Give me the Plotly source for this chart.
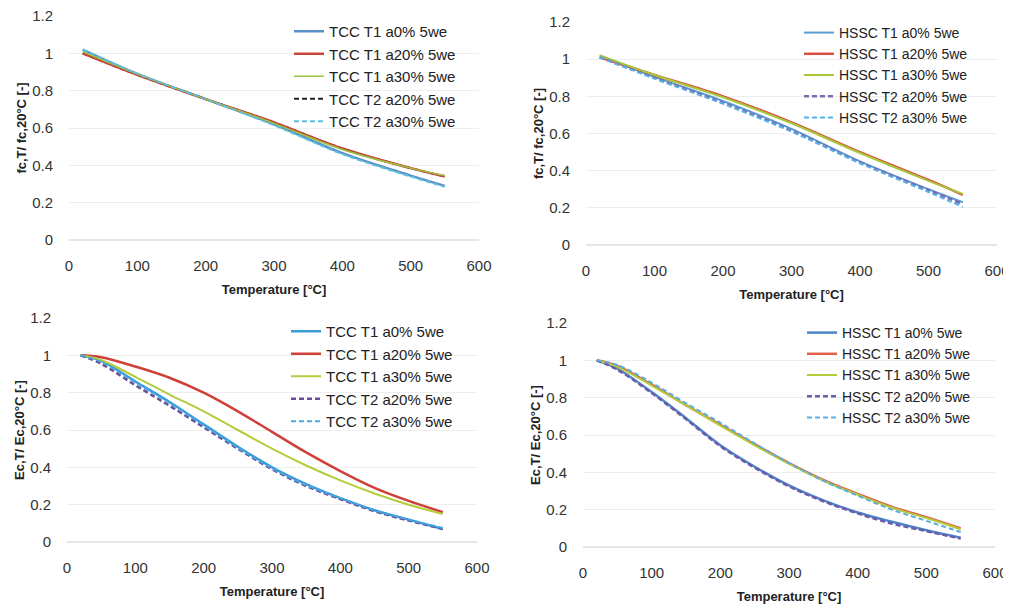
import plotly.graph_objects as go

# ---------------- data ----------------
temp_f = [20, 100, 200, 300, 400, 500, 550]

tcc_names = ["TCC T1 a0% 5we", "TCC T1 a20% 5we", "TCC T1 a30% 5we", "TCC T2 a20% 5we", "TCC T2 a30% 5we"]
tcc_fc_t1_a0 = [1.02, 0.89, 0.755, 0.62, 0.465, 0.345, 0.29]
tcc_fc_t1_a20 = [1.00, 0.885, 0.755, 0.63, 0.49, 0.385, 0.34]
tcc_fc_t1_a30 = [1.01, 0.89, 0.755, 0.625, 0.485, 0.385, 0.345]
tcc_fc_t2_a20 = [1.00, 0.885, 0.755, 0.63, 0.49, 0.385, 0.34]
tcc_fc_t2_a30 = [1.02, 0.89, 0.755, 0.615, 0.46, 0.34, 0.285]

hssc_names = ["HSSC T1 a0% 5we", "HSSC T1 a20% 5we", "HSSC T1 a30% 5we", "HSSC T2 a20% 5we", "HSSC T2 a30% 5we"]
hssc_fc_t1_a0 = [1.02, 0.905, 0.775, 0.625, 0.45, 0.30, 0.23]
hssc_fc_t1_a20 = [1.01, 0.915, 0.80, 0.66, 0.50, 0.35, 0.27]
hssc_fc_t1_a30 = [1.02, 0.915, 0.795, 0.655, 0.495, 0.345, 0.275]
hssc_fc_t2_a20 = [1.01, 0.90, 0.765, 0.615, 0.445, 0.295, 0.22]
hssc_fc_t2_a30 = [1.01, 0.895, 0.76, 0.61, 0.44, 0.285, 0.205]

temp_e = [20, 50, 100, 150, 200, 250, 300, 350, 400, 450, 500, 550]

tcc_ec_t1_a0 = [1.0, 0.97, 0.86, 0.75, 0.63, 0.51, 0.40, 0.31, 0.235, 0.17, 0.12, 0.07]
tcc_ec_t1_a20 = [1.0, 0.99, 0.94, 0.88, 0.80, 0.70, 0.59, 0.48, 0.38, 0.29, 0.22, 0.16]
tcc_ec_t1_a30 = [1.0, 0.975, 0.885, 0.79, 0.70, 0.60, 0.50, 0.41, 0.33, 0.26, 0.20, 0.15]
tcc_ec_t2_a20 = [1.0, 0.955, 0.84, 0.73, 0.615, 0.50, 0.39, 0.30, 0.23, 0.165, 0.115, 0.07]
tcc_ec_t2_a30 = [1.0, 0.965, 0.855, 0.745, 0.625, 0.505, 0.395, 0.305, 0.235, 0.17, 0.12, 0.075]

hssc_ec_t1_a0 = [1.0, 0.955, 0.83, 0.69, 0.545, 0.43, 0.33, 0.25, 0.185, 0.135, 0.09, 0.05]
hssc_ec_t1_a20 = [1.0, 0.97, 0.87, 0.76, 0.655, 0.55, 0.45, 0.36, 0.285, 0.215, 0.16, 0.10]
hssc_ec_t1_a30 = [1.0, 0.965, 0.865, 0.76, 0.65, 0.545, 0.445, 0.355, 0.28, 0.21, 0.155, 0.095]
hssc_ec_t2_a20 = [1.0, 0.95, 0.825, 0.685, 0.54, 0.425, 0.325, 0.245, 0.18, 0.125, 0.085, 0.045]
hssc_ec_t2_a30 = [1.0, 0.975, 0.88, 0.77, 0.665, 0.555, 0.45, 0.355, 0.275, 0.20, 0.14, 0.08]

x_ticks = [0, 100, 200, 300, 400, 500, 600]
y_ticks = [0, 0.2, 0.4, 0.6, 0.8, 1.0, 1.2]
y_tick_text = ["0", "0.2", "0.4", "0.6", "0.8", "1", "1.2"]

# ---------------- figure ----------------
# the page body has an 8px margin on the top/left
OFF = 8
W, H = 1011 - OFF, 607 - OFF
FONT = "Liberation Sans, Arial, sans-serif"
DASH = "5px,3px"

fig = go.Figure()

panels = [
    ("x", "y", "legend", temp_f,
     [tcc_fc_t1_a0, tcc_fc_t1_a20, tcc_fc_t1_a30, tcc_fc_t2_a20, tcc_fc_t2_a30], tcc_names,
     [("#5B8FC8", "solid", 2.5), ("#C8463A", "solid", 2.5), ("#9BC53D", "solid", 1.5),
      ("#222222", DASH, 2), ("#5BC0DE", DASH, 2)],
     [3, 0, 1, 2, 4]),  # drawing order
    ("x2", "y2", "legend2", temp_f,
     [hssc_fc_t1_a0, hssc_fc_t1_a20, hssc_fc_t1_a30, hssc_fc_t2_a20, hssc_fc_t2_a30], hssc_names,
     [("#5B9BD5", "solid", 2), ("#D9503F", "solid", 2.5), ("#A8C83A", "solid", 2),
      ("#7A6AAE", DASH, 2.5), ("#55B0E8", DASH, 2)],
     [0, 1, 2, 3, 4]),
    ("x3", "y3", "legend3", temp_e,
     [tcc_ec_t1_a0, tcc_ec_t1_a20, tcc_ec_t1_a30, tcc_ec_t2_a20, tcc_ec_t2_a30], tcc_names,
     [("#3A9BD8", "solid", 2.5), ("#D0403A", "solid", 2.5), ("#B5CC3A", "solid", 2),
      ("#6A4E9A", DASH, 2.5), ("#45A8E0", DASH, 2)],
     [0, 1, 2, 3, 4]),
    ("x4", "y4", "legend4", temp_e,
     [hssc_ec_t1_a0, hssc_ec_t1_a20, hssc_ec_t1_a30, hssc_ec_t2_a20, hssc_ec_t2_a30], hssc_names,
     [("#4A86C8", "solid", 2.5), ("#E0604A", "solid", 2.5), ("#B5CC3A", "solid", 2),
      ("#6E5AAA", DASH, 2.5), ("#5AAEE0", DASH, 2)],
     [0, 1, 2, 3, 4]),
]

for pi, (xa, ya, lg, temps, series, names, styles, order) in enumerate(panels):
    for si in order:
        col, dash, w = styles[si]
        fig.add_trace(go.Scatter(
            x=temps, y=series[si], mode="lines", name=names[si],
            line=dict(color=col, dash=dash, width=w, shape="spline"),
            xaxis=xa, yaxis=ya, legend=lg, legendgroup=f"p{pi}s{si}",
            legendrank=100 * (pi + 1) + si,
        ))


def px_x(p):
    # p: screen pixel -> paper fraction
    return (p - OFF) / W


def px_y(p):
    return 1 - (p - OFF) / H


# plot area boxes in screen pixels: (x at 0, x at 600, y at 0, y at 1.2)
boxes = [
    (69, 479, 240, 16),
    (586, 997, 245, 22),
    (67, 477, 542, 318),
    (583, 995, 547, 323),
]
ytitles = ["fc,T/ fc,20°C [-]", "fc,T/ fc,20°C [-]", "Ec,T/ Ec,20°C [-]", "Ec,T/ Ec,20°C [-]"]

layout = dict(
    width=W, height=H,
    margin=dict(l=0, r=0, t=0, b=0, autoexpand=False),
    paper_bgcolor="white", plot_bgcolor="white",
    font=dict(family=FONT, color="#333333", size=15),
)

for i, (x0, x1, y0, y1) in enumerate(boxes):
    suffix = "" if i == 0 else str(i + 1)
    layout["xaxis" + suffix] = dict(
        domain=[px_x(x0), px_x(x1)], range=[0, 600], anchor="y" + suffix,
        tickvals=x_ticks, ticktext=[str(v) for v in x_ticks],
        showgrid=False, zeroline=False, showline=False, automargin=False,
        ticks="outside", ticklen=12, tickcolor="rgba(0,0,0,0)",
        ticklabeloverflow="allow",
        tickfont=dict(size=15, color="#333333"),
        title=dict(text="<b>Temperature [°C]</b>", font=dict(size=13, color="#222222"), standoff=11),
    )
    layout["yaxis" + suffix] = dict(
        domain=[px_y(y0), px_y(y1)], range=[0, 1.2], anchor="x" + suffix,
        tickvals=y_ticks, ticktext=y_tick_text,
        showgrid=True, gridcolor="#EEEEEE", gridwidth=1,
        zeroline=True, zerolinecolor="#E6E6E6", showline=False, automargin=False,
        ticks="outside", ticklen=12, tickcolor="rgba(0,0,0,0)",
        ticklabeloverflow="allow",
        tickfont=dict(size=15, color="#333333"),
        title=dict(text="<b>" + ytitles[i] + "</b>", font=dict(size=13, color="#222222"), standoff=2),
    )

legend_pos = [
    # x (figure px), y top (figure px), font size
    (281, 7, 15),
    (791, 9, 14),
    (278, 307, 15),
    (794, 309, 14),
]
for i, (lx, ly, fs) in enumerate(legend_pos):
    key = "legend" if i == 0 else f"legend{i + 1}"
    layout[key] = dict(
        x=lx / W, y=1 - ly / H, xanchor="left", yanchor="top",
        bgcolor="rgba(255,255,255,0)", borderwidth=0,
        font=dict(family=FONT, size=fs, color="#222222"),
        tracegroupgap=0, itemwidth=30, traceorder="normal",
    )

fig.update_layout(**layout)
fig.write_html("out.html")
